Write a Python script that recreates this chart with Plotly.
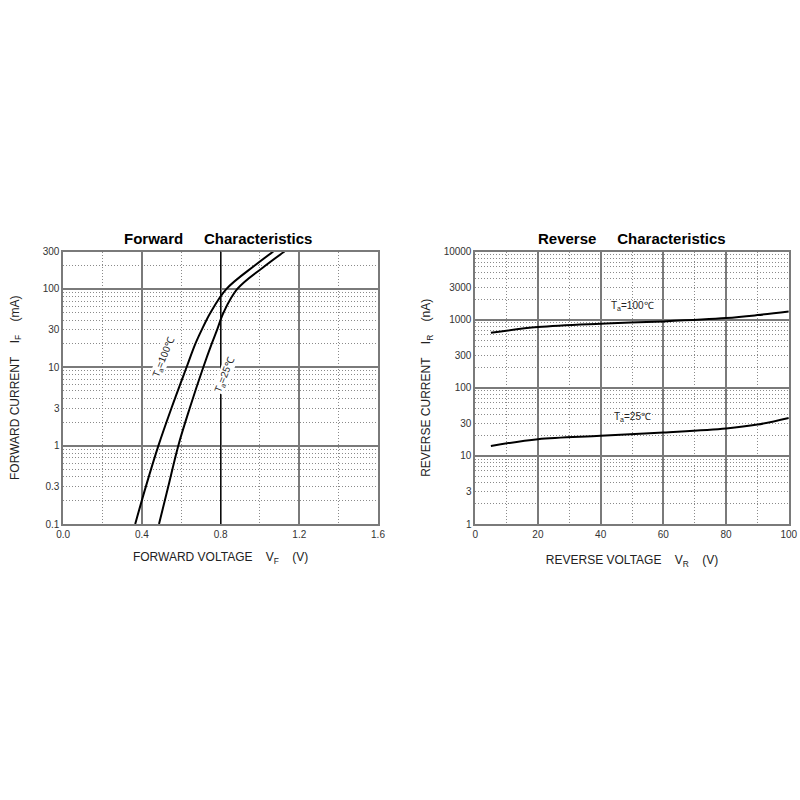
import plotly.graph_objects as go

# curvas de corrente direta (mA) x tensão (V)
if_ma = [0.1, 0.3, 1, 3, 10, 20, 30, 50, 100, 200, 300]
vf_100 = [0.366, 0.42, 0.484, 0.55, 0.627, 0.672, 0.704, 0.749, 0.83, 0.975, 1.068]
vf_25 = [0.487, 0.534, 0.585, 0.643, 0.712, 0.755, 0.782, 0.815, 0.885, 1.03, 1.125]

# curvas de corrente reversa (nA) x tensão (V)
vr = [5, 20, 40, 60, 80, 90, 100]
ir_100 = [644, 778, 872, 942, 1054, 1166, 1321]
ir_25 = [14.0, 17.6, 19.7, 22.0, 25.2, 28.8, 36.1]

fwd_yticks = [0.1, 0.3, 1, 3, 10, 30, 100, 300]
fwd_xticks = [0.0, 0.4, 0.8, 1.2, 1.6]
rev_yticks = [1, 3, 10, 30, 100, 300, 1000, 3000, 10000]
rev_xticks = [0, 20, 40, 60, 80, 100]

FONTE = "Liberation Sans, Arial, sans-serif"
SOLIDO = "#7a7a7a"
PONTILHADO = "#8a8a8a"
PONTO = "1px,2px"
SP = "\u00a0"

fig = go.Figure()

linha = dict(color="black", width=2, shape="spline", smoothing=1.0)
fig.add_trace(go.Scatter(x=vf_100, y=if_ma, mode="lines", line=linha, xaxis="x", yaxis="y", showlegend=False))
fig.add_trace(go.Scatter(x=vf_25, y=if_ma, mode="lines", line=linha, xaxis="x", yaxis="y", showlegend=False))
fig.add_trace(go.Scatter(x=vr, y=ir_100, mode="lines", line=linha, xaxis="x2", yaxis="y2", showlegend=False))
fig.add_trace(go.Scatter(x=vr, y=ir_25, mode="lines", line=linha, xaxis="x2", yaxis="y2", showlegend=False))
# traços vazios só para os eixos de rótulos aparecerem
fig.add_trace(go.Scatter(x=[], y=[], xaxis="x", yaxis="y3", showlegend=False, hoverinfo="skip"))
fig.add_trace(go.Scatter(x=[], y=[], xaxis="x2", yaxis="y4", showlegend=False, hoverinfo="skip"))

eixo_comum = dict(showline=True, linecolor=SOLIDO, linewidth=1.5, mirror=True, ticks="", automargin=False,
                  tickfont=dict(size=10, color="#333", family=FONTE), zeroline=False)
titulo_font = dict(size=12, color="#222", family=FONTE)
DOM_Y = [0.345, 0.6856]

# eixo X - direta
fig.update_layout(xaxis=dict(eixo_comum, domain=[0.079, 0.4725], anchor="y", range=[0, 1.6],
                             tickvals=fwd_xticks, tickformat=".1f", showgrid=True, gridcolor=SOLIDO, gridwidth=1.5,
                             minor=dict(dtick=0.2, showgrid=True, gridcolor=PONTILHADO, griddash=PONTO, gridwidth=1),
                             title=dict(text="FORWARD VOLTAGE" + SP * 4 + "V<sub>F</sub>" + SP * 4 + "(V)",
                                        font=titulo_font, standoff=14)))
# eixo Y - direta (grade)
fig.update_layout(yaxis=dict(eixo_comum, domain=DOM_Y, anchor="x", type="log", range=[-1, 2.4771],
                             dtick=1, showticklabels=False, showgrid=True, gridcolor=SOLIDO, gridwidth=1.5,
                             minor=dict(dtick="D1", showgrid=True, gridcolor=PONTILHADO, griddash=PONTO, gridwidth=1)))
# eixo Y - direta (rótulos)
fig.update_layout(yaxis3=dict(eixo_comum, overlaying="y", anchor="x", type="log", range=[-1, 2.4771],
                              tickvals=fwd_yticks, ticktext=[str(v) for v in fwd_yticks], showgrid=False,
                              title=dict(text="FORWARD CURRENT" + SP * 4 + "I<sub>F</sub>" + SP * 4 + "(mA)",
                                         font=titulo_font, standoff=21)))

# eixo X - reversa
fig.update_layout(xaxis2=dict(eixo_comum, domain=[0.594, 0.986], anchor="y2", range=[0, 100],
                              tickvals=rev_xticks, showgrid=True, gridcolor=SOLIDO, gridwidth=1.5,
                              ticklabeloverflow="allow",
                              minor=dict(dtick=10, showgrid=True, gridcolor=PONTILHADO, griddash=PONTO, gridwidth=1),
                              title=dict(text="REVERSE VOLTAGE" + SP * 4 + "V<sub>R</sub>" + SP * 4 + "(V)",
                                         font=titulo_font, standoff=17)))
fig.update_layout(yaxis2=dict(eixo_comum, domain=DOM_Y, anchor="x2", type="log", range=[0, 4],
                              dtick=1, showticklabels=False, showgrid=True, gridcolor=SOLIDO, gridwidth=1.5,
                              minor=dict(dtick="D1", showgrid=True, gridcolor=PONTILHADO, griddash=PONTO, gridwidth=1)))
fig.update_layout(yaxis4=dict(eixo_comum, overlaying="y2", anchor="x2", type="log", range=[0, 4],
                              tickvals=rev_yticks, ticktext=[str(v) for v in rev_yticks], showgrid=False,
                              title=dict(text="REVERSE CURRENT" + SP * 4 + "I<sub>R</sub>" + SP * 4 + "(nA)",
                                         font=titulo_font, standoff=10)))

# linha de referência em 0.8 V
fig.add_shape(type="line", xref="x", yref="y domain", x0=0.8, x1=0.8, y0=0, y1=1,
              line=dict(color="black", width=1))

# títulos e legendas das curvas
fig.add_annotation(text="<b>Forward" + SP * 5 + "Characteristics</b>", xref="paper", yref="paper",
                   x=0.2725, y=0.7013, xanchor="center", yanchor="middle", showarrow=False,
                   font=dict(size=15, color="black", family=FONTE))
fig.add_annotation(text="<b>Reverse" + SP * 5 + "Characteristics</b>", xref="paper", yref="paper",
                   x=0.79, y=0.7013, xanchor="center", yanchor="middle", showarrow=False,
                   font=dict(size=15, color="black", family=FONTE))
fig.add_annotation(text="T<sub>a</sub>=100℃", xref="x", yref="y", x=0.51, y=1.133, bgcolor="white", borderpad=0,
                   showarrow=False, textangle=-68, font=dict(size=10, color="#222", family=FONTE))
fig.add_annotation(text="T<sub>a</sub>=25℃", xref="x", yref="y", x=0.82, y=0.903, bgcolor="white", borderpad=0,
                   showarrow=False, textangle=-68, font=dict(size=10, color="#222", family=FONTE))
fig.add_annotation(text="T<sub>a</sub>=100℃", xref="x2", yref="y2", x=50.3, y=3.194,
                   showarrow=False, font=dict(size=10, color="#222", family=FONTE))
fig.add_annotation(text="T<sub>a</sub>=25℃", xref="x2", yref="y2", x=50, y=1.565,
                   showarrow=False, font=dict(size=10, color="#222", family=FONTE))

fig.update_layout(width=800, height=800, margin=dict(l=0, r=0, t=0, b=0),
                  plot_bgcolor="white", paper_bgcolor="white", font=dict(family=FONTE))

# tira a margem padrão da página para o gráfico ocupar a janela inteira
fig.write_html("out.html", config={"displayModeBar": False},
               post_script="document.body.style.margin='0';")
